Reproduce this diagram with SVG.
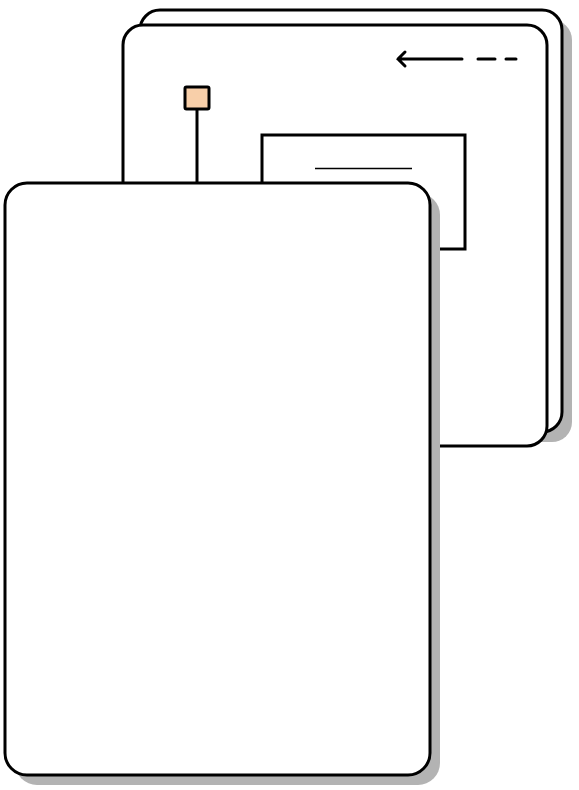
<svg xmlns="http://www.w3.org/2000/svg" width="579" height="790" viewBox="0 0 579 790">
<style>
.panel{fill:#fff;stroke:#000;stroke-width:3}
.shadow{fill:#b3b3b3}
.ln{stroke:#000;stroke-width:3;fill:none;stroke-linecap:round}
</style>
<rect width="579" height="790" fill="#fff"/>
<g id="back-panel">
<rect class="shadow" x="150" y="20" width="422" height="422" rx="20"/>
<rect class="panel" x="140" y="10" width="422" height="422" rx="20"/>
</g>
<g id="middle-panel">
<rect class="panel" x="123" y="25" width="424" height="421" rx="20"/>
</g>
<g id="inner-box">
<rect x="262" y="135" width="203" height="114" fill="#fff" stroke="#000" stroke-width="3"/>
<line x1="315" y1="168.5" x2="412" y2="168.5" stroke="#000" stroke-width="1.5"/>
</g>
<g id="port">
<rect x="185" y="87" width="24" height="22" rx="1.5" fill="#f8cfa9" stroke="#000" stroke-width="3"/>
</g>
<g id="connectors">
<line x1="197" y1="110" x2="197" y2="184" stroke="#000" stroke-width="3"/>
<path class="ln" d="M462,59 H398 M405,52 L398,59 L405,66"/>
<line class="ln" x1="478" y1="59" x2="495" y2="59"/>
<line class="ln" x1="506" y1="59" x2="516" y2="59"/>
</g>
<g id="front-panel">
<rect class="shadow" x="15" y="193" width="425" height="592" rx="22"/>
<rect class="panel" x="5" y="183" width="425" height="592" rx="22"/>
</g>
</svg>
